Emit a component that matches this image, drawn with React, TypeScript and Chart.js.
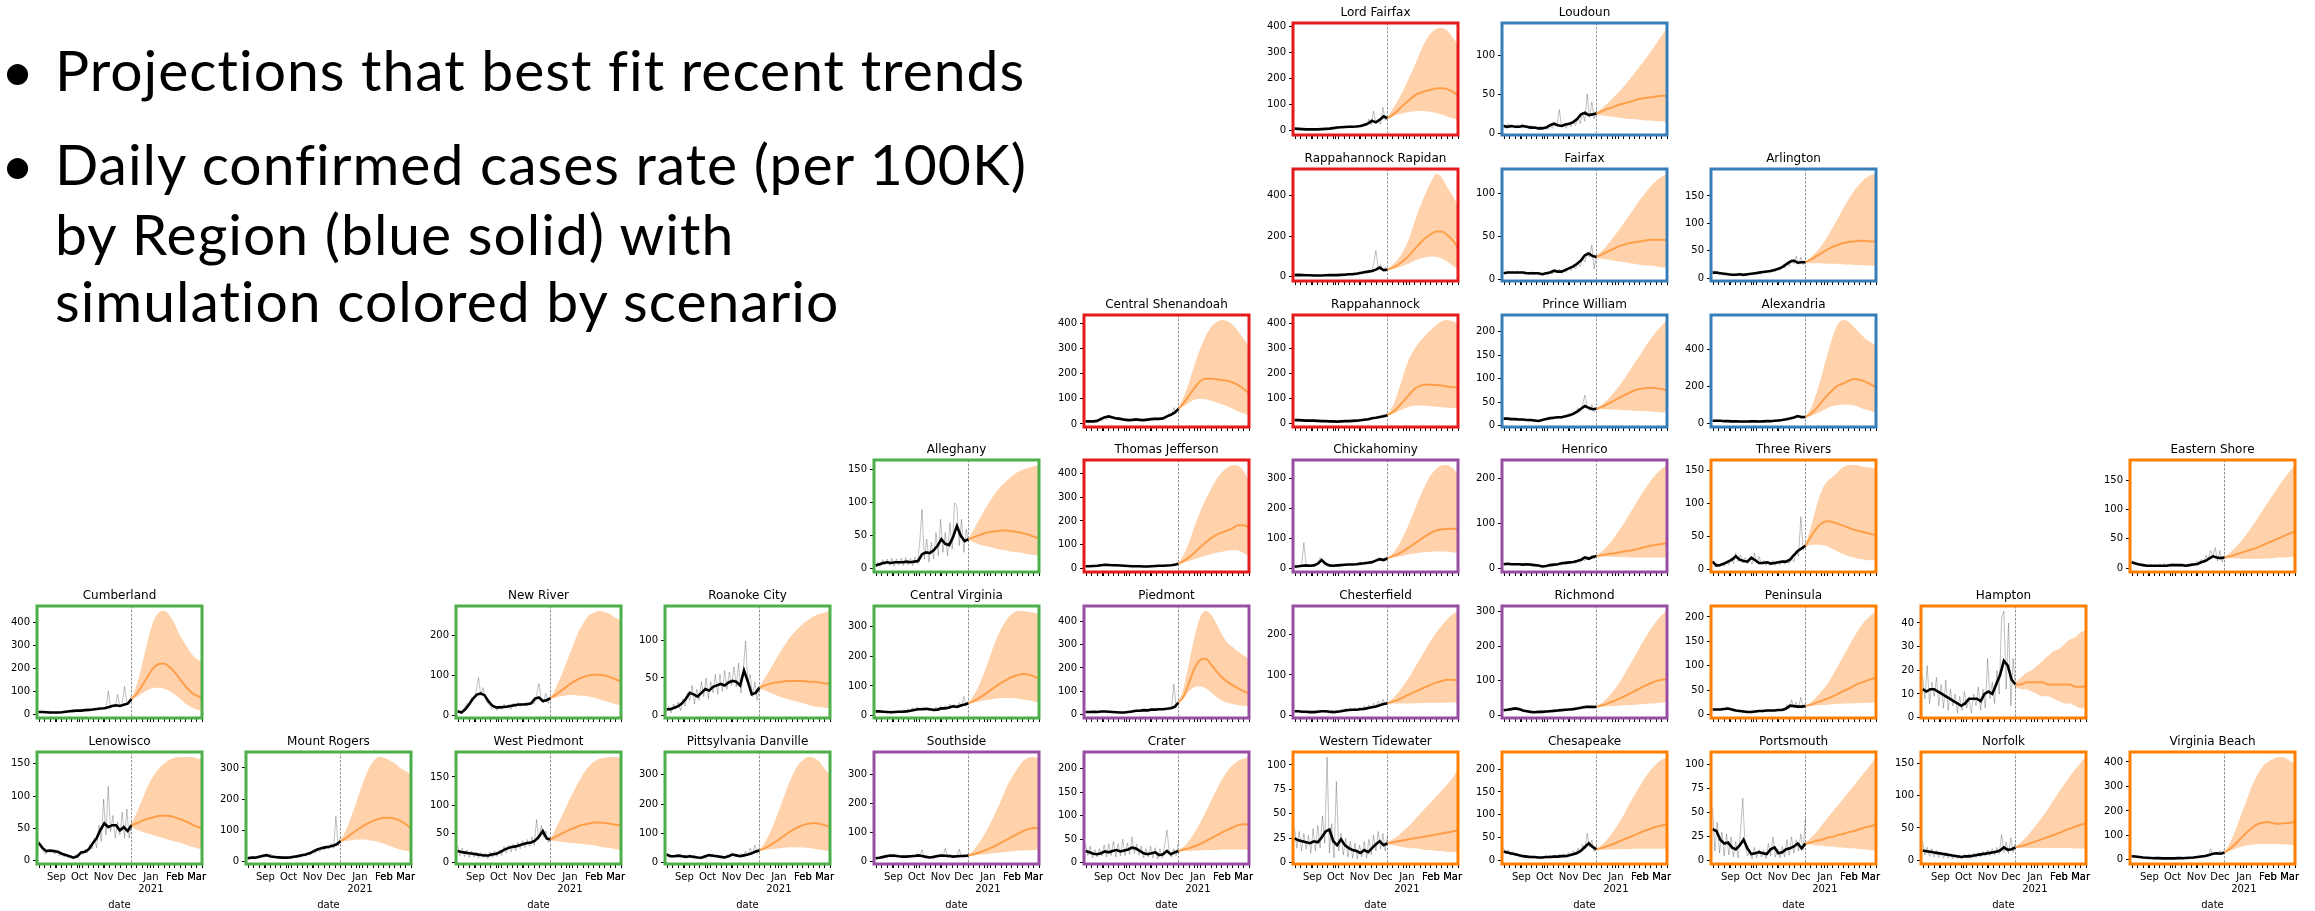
import { useEffect, useRef } from "react";
import { Chart, registerables } from "chart.js";

Chart.register(...registerables);
Chart.defaults.font.family = '"DejaVu Sans", sans-serif';
Chart.defaults.color = "#000";

// x values are days since 2020-08-01
const AXIS_START = 6; // Aug 7
const AXIS_END = 219; // Mar 8
const FORECAST_START = 128; // Dec 7

const OBS_DAYS = [8, 13, 18, 23, 28, 33, 38, 43, 48, 53, 58, 63, 68, 73, 78, 83, 88, 93, 98, 103, 108, 113, 118, 123, 128];
const RAW_DAYS = [8, 11, 14, 17, 20, 23, 26, 29, 32, 35, 38, 41, 44, 47, 50, 53, 56, 59, 62, 65, 68, 71, 74, 77, 80, 83, 86, 89, 92, 95, 98, 101, 104, 107, 110, 113, 116, 119, 122, 125, 128];
const PROJ_DAYS = [128, 135, 142, 149, 156, 163, 170, 177, 184, 191, 198, 205, 212, 219];

const MONTH_TICKS = [31, 61, 92, 122, 153, 184, 212];
const MONTH_LABELS: (string | string[])[] = ["Sep", "Oct", "Nov", "Dec", ["Jan", "2021"], "Feb", "Mar"];
const WEEK_TICKS = [9, 16, 23, 30, 37, 44, 51, 58, 65, 72, 79, 86, 93, 100, 107, 114, 121, 128, 135, 142, 149, 156, 163, 170, 177, 184, 191, 198, 205, 212, 219];

// ---- Region series: obs = 7-day average, raw = daily rate, mid/lo/hi = projection ----
const lordFairfaxObs = [8, 7, 6, 5, 5, 5, 5, 6, 7, 8, 10, 12, 13, 14, 15, 15, 16, 18, 22, 28, 38, 32, 42, 55, 48];
const lordFairfaxRaw = [10, 5, 9, 4, 8, 3, 7, 4, 6, 3, 8, 4, 8, 5, 10, 6, 11, 8, 14, 9, 16, 10, 17, 11, 19, 12, 20, 13, 22, 14, 30, 18, 45, 22, 75, 30, 45, 25, 90, 40, 60];
const lordFairfaxMid = [48, 62, 80, 100, 118, 135, 146, 153, 158, 162, 163, 160, 150, 135];
const lordFairfaxLo = [46, 55, 62, 68, 72, 75, 76, 75, 72, 68, 62, 55, 48, 42];
const lordFairfaxHi = [50, 85, 120, 160, 205, 250, 300, 345, 375, 392, 395, 385, 360, 330];

const loudounObs = [9, 8, 9, 8, 8, 9, 8, 7, 7, 6, 6, 7, 10, 12, 10, 9, 11, 12, 14, 18, 24, 26, 23, 24, 25];
const loudounRaw = [11, 6, 12, 7, 10, 6, 11, 7, 12, 8, 9, 5, 10, 6, 8, 4, 9, 5, 8, 4, 9, 6, 14, 10, 30, 8, 12, 6, 14, 8, 16, 10, 20, 12, 26, 15, 50, 20, 40, 18, 30];
const loudounMid = [25, 28, 31, 33, 36, 38, 40, 42, 44, 45, 46, 47, 48, 48];
const loudounLo = [24, 23, 22, 21, 20, 19, 18, 18, 17, 16, 16, 15, 15, 14];
const loudounHi = [26, 32, 38, 45, 52, 60, 68, 77, 86, 95, 105, 115, 125, 135];

const rappRapidanObs = [8, 9, 8, 7, 7, 6, 6, 6, 7, 8, 8, 8, 9, 10, 12, 13, 15, 18, 22, 25, 28, 35, 45, 32, 35];
const rappRapidanRaw = [12, 6, 11, 6, 10, 5, 8, 4, 9, 5, 8, 4, 9, 6, 10, 6, 11, 7, 12, 8, 13, 9, 15, 10, 18, 12, 22, 15, 26, 18, 30, 20, 35, 25, 60, 130, 40, 60, 30, 45, 38];
const rappRapidanMid = [35, 45, 60, 80, 105, 135, 165, 190, 210, 222, 222, 205, 180, 145];
const rappRapidanLo = [34, 38, 45, 55, 65, 78, 88, 96, 100, 98, 90, 75, 55, 35];
const rappRapidanHi = [36, 60, 90, 130, 190, 270, 345, 410, 465, 505, 490, 440, 400, 350];

const fairfaxObs = [7, 8, 8, 8, 8, 8, 7, 7, 7, 7, 6, 7, 8, 10, 9, 9, 11, 13, 15, 18, 22, 28, 30, 27, 26];
const fairfaxRaw = [9, 6, 10, 7, 9, 6, 10, 7, 9, 6, 8, 5, 9, 5, 8, 5, 7, 4, 8, 5, 9, 6, 11, 8, 12, 7, 11, 8, 14, 10, 16, 12, 19, 15, 24, 20, 32, 26, 40, 12, 28];
const fairfaxMid = [26, 29, 32, 35, 38, 40, 42, 43, 44, 45, 46, 46, 46, 45];
const fairfaxLo = [25, 24, 23, 22, 21, 20, 19, 18, 17, 16, 16, 15, 14, 14];
const fairfaxHi = [27, 33, 40, 48, 56, 65, 74, 83, 92, 100, 108, 114, 119, 122];

const arlingtonObs = [10, 10, 9, 8, 7, 6, 6, 7, 6, 7, 8, 9, 10, 11, 12, 13, 15, 17, 20, 25, 30, 32, 28, 29, 29];
const arlingtonRaw = [14, 8, 12, 7, 10, 6, 9, 5, 8, 4, 8, 5, 9, 6, 8, 5, 9, 6, 10, 7, 11, 8, 12, 9, 14, 10, 15, 12, 18, 14, 22, 18, 28, 22, 35, 26, 40, 25, 38, 24, 34];
const arlingtonMid = [29, 34, 40, 46, 52, 57, 61, 64, 66, 67, 68, 68, 67, 67];
const arlingtonLo = [28, 27, 27, 27, 26, 26, 26, 25, 25, 24, 24, 23, 23, 22];
const arlingtonHi = [30, 38, 48, 60, 75, 92, 110, 128, 145, 160, 172, 182, 188, 190];

const centralShenandoahObs = [10, 10, 10, 12, 20, 27, 30, 26, 22, 20, 17, 15, 16, 18, 16, 15, 17, 19, 20, 20, 22, 30, 36, 45, 60];
const centralShenandoahRaw = [12, 8, 11, 9, 12, 10, 16, 12, 22, 18, 35, 24, 30, 22, 25, 18, 22, 14, 20, 13, 18, 12, 20, 13, 22, 15, 19, 13, 22, 16, 25, 17, 26, 18, 28, 24, 45, 35, 65, 45, 70];
const centralShenandoahMid = [60, 85, 115, 145, 170, 180, 180, 178, 175, 172, 165, 155, 140, 122];
const centralShenandoahLo = [58, 70, 85, 97, 100, 98, 92, 85, 78, 70, 60, 50, 42, 35];
const centralShenandoahHi = [62, 110, 170, 240, 300, 350, 385, 405, 414, 410, 395, 370, 340, 310];

const rappahannockObs = [12, 12, 11, 10, 10, 10, 9, 8, 8, 7, 7, 6, 7, 8, 8, 9, 10, 12, 14, 16, 20, 22, 25, 28, 32];
const rappahannockRaw = [15, 10, 14, 9, 13, 9, 12, 8, 12, 8, 11, 7, 10, 6, 9, 6, 8, 5, 9, 5, 8, 5, 9, 6, 10, 7, 11, 8, 14, 10, 16, 12, 20, 16, 24, 18, 28, 22, 35, 25, 38];
const rappahannockMid = [32, 45, 65, 90, 115, 138, 150, 155, 155, 154, 152, 148, 145, 145];
const rappahannockLo = [31, 38, 48, 58, 66, 70, 71, 70, 68, 66, 64, 62, 61, 60];
const rappahannockHi = [34, 70, 130, 200, 260, 300, 330, 355, 375, 395, 410, 415, 410, 400];

const princeWilliamObs = [15, 15, 14, 14, 13, 13, 12, 12, 11, 10, 12, 14, 16, 17, 18, 18, 20, 22, 25, 30, 36, 42, 38, 35, 36];
const princeWilliamRaw = [18, 12, 17, 12, 16, 11, 15, 11, 14, 10, 13, 9, 12, 8, 11, 8, 13, 10, 16, 12, 18, 13, 19, 14, 20, 15, 22, 17, 26, 20, 30, 25, 38, 30, 45, 65, 40, 32, 45, 30, 40];
const princeWilliamMid = [36, 40, 46, 52, 58, 64, 70, 75, 78, 80, 81, 80, 78, 75];
const princeWilliamLo = [35, 35, 35, 34, 34, 33, 33, 32, 31, 31, 30, 29, 28, 28];
const princeWilliamHi = [37, 45, 55, 68, 82, 98, 115, 133, 150, 168, 185, 200, 213, 225];

const alexandriaObs = [12, 12, 12, 10, 10, 9, 9, 8, 8, 8, 9, 9, 8, 9, 10, 10, 12, 14, 16, 20, 25, 30, 38, 32, 33];
const alexandriaRaw = [15, 10, 14, 10, 13, 9, 12, 8, 11, 8, 10, 7, 10, 6, 9, 6, 10, 7, 11, 8, 10, 7, 11, 8, 12, 9, 13, 10, 16, 12, 18, 14, 22, 18, 28, 24, 35, 30, 42, 28, 36];
const alexandriaMid = [33, 50, 80, 115, 150, 180, 205, 215, 230, 240, 235, 225, 210, 195];
const alexandriaLo = [32, 38, 50, 65, 80, 92, 98, 100, 100, 95, 85, 75, 65, 55];
const alexandriaHi = [35, 80, 160, 260, 370, 470, 540, 560, 550, 520, 490, 460, 440, 425];

const alleghanyObs = [5, 7, 9, 10, 9, 10, 10, 10, 11, 10, 11, 12, 22, 25, 24, 28, 35, 45, 38, 36, 48, 65, 50, 42, 45];
const alleghanyRaw = [3, 10, 4, 14, 6, 15, 5, 16, 4, 15, 6, 16, 5, 17, 6, 16, 5, 18, 8, 40, 90, 15, 45, 10, 40, 15, 55, 20, 75, 25, 55, 20, 70, 30, 100, 95, 35, 75, 25, 60, 40];
const alleghanyMid = [45, 48, 51, 54, 56, 57, 58, 58, 57, 56, 54, 52, 49, 46];
const alleghanyLo = [44, 40, 37, 35, 33, 31, 29, 28, 26, 25, 24, 22, 21, 20];
const alleghanyHi = [46, 60, 75, 90, 103, 115, 125, 133, 140, 146, 150, 153, 155, 157];

const thomasJeffersonObs = [10, 10, 11, 12, 14, 16, 15, 14, 14, 13, 12, 11, 10, 10, 10, 9, 9, 10, 11, 12, 12, 13, 14, 16, 20];
const thomasJeffersonRaw = [12, 8, 13, 9, 14, 10, 16, 11, 18, 13, 19, 14, 17, 12, 16, 11, 15, 10, 14, 10, 13, 9, 12, 8, 12, 8, 11, 7, 12, 8, 13, 9, 14, 10, 15, 11, 17, 12, 22, 14, 26];
const thomasJeffersonMid = [20, 32, 48, 68, 90, 110, 128, 142, 152, 160, 170, 182, 182, 172];
const thomasJeffersonLo = [19, 25, 32, 40, 47, 54, 60, 66, 71, 75, 78, 76, 65, 52];
const thomasJeffersonHi = [22, 60, 115, 180, 240, 290, 335, 375, 405, 425, 435, 432, 410, 370];

const chickahominyObs = [5, 6, 8, 9, 8, 9, 15, 27, 15, 9, 8, 9, 10, 11, 12, 12, 13, 15, 16, 18, 20, 25, 30, 27, 33];
const chickahominyRaw = [7, 4, 8, 6, 85, 10, 8, 6, 9, 7, 18, 35, 22, 10, 8, 6, 10, 7, 11, 8, 12, 9, 13, 10, 14, 11, 15, 12, 18, 14, 20, 15, 22, 17, 25, 28, 35, 26, 32, 28, 36];
const chickahominyMid = [33, 40, 48, 58, 70, 82, 95, 107, 118, 126, 130, 131, 132, 130];
const chickahominyLo = [32, 35, 38, 42, 46, 49, 52, 54, 55, 56, 56, 55, 53, 50];
const chickahominyHi = [34, 50, 75, 110, 150, 195, 240, 280, 312, 333, 344, 345, 335, 315];

const henricoObs = [10, 11, 10, 10, 10, 9, 10, 9, 8, 7, 5, 6, 8, 9, 10, 12, 13, 14, 15, 17, 20, 25, 22, 26, 28];
const henricoRaw = [12, 8, 13, 9, 12, 8, 12, 8, 11, 7, 12, 8, 10, 7, 9, 6, 8, 4, 6, 4, 7, 5, 9, 7, 10, 8, 12, 10, 14, 11, 15, 12, 17, 14, 20, 18, 28, 20, 30, 22, 30];
const henricoMid = [28, 30, 32, 34, 36, 38, 40, 42, 45, 48, 51, 53, 55, 56];
const henricoLo = [27, 27, 27, 26, 26, 26, 25, 25, 25, 25, 25, 25, 25, 25];
const henricoHi = [29, 38, 50, 65, 82, 100, 120, 140, 160, 178, 195, 210, 222, 230];

const threeRiversObs = [12, 6, 7, 9, 12, 15, 20, 15, 13, 12, 18, 14, 10, 10, 11, 9, 10, 11, 12, 12, 15, 22, 28, 32, 36];
const threeRiversRaw = [15, 5, 9, 4, 10, 5, 13, 7, 18, 9, 25, 12, 22, 10, 18, 9, 15, 8, 25, 10, 20, 8, 14, 6, 13, 7, 14, 6, 12, 7, 14, 8, 15, 9, 18, 12, 28, 20, 80, 30, 40];
const threeRiversMid = [36, 50, 62, 70, 73, 72, 69, 66, 63, 60, 58, 56, 54, 52];
const threeRiversLo = [35, 37, 38, 37, 35, 31, 27, 23, 20, 18, 16, 15, 14, 14];
const threeRiversHi = [37, 65, 95, 120, 133, 140, 148, 155, 158, 158, 157, 155, 154, 152];

const easternShoreObs = [10, 8, 6, 5, 4, 4, 4, 4, 4, 4, 5, 5, 5, 5, 4, 5, 6, 7, 10, 12, 16, 20, 18, 17, 18];
const easternShoreRaw = [13, 7, 10, 5, 8, 3, 6, 2, 7, 2, 6, 3, 7, 2, 8, 3, 7, 3, 8, 3, 7, 2, 6, 3, 7, 4, 9, 5, 12, 8, 15, 10, 22, 14, 30, 20, 35, 12, 30, 10, 22];
const easternShoreMid = [18, 20, 23, 26, 29, 32, 35, 39, 43, 47, 51, 55, 59, 63];
const easternShoreLo = [17, 17, 17, 16, 16, 16, 16, 16, 17, 17, 18, 18, 19, 20];
const easternShoreHi = [19, 26, 35, 45, 57, 70, 84, 98, 112, 126, 140, 153, 165, 176];

const cumberlandObs = [9, 9, 8, 7, 7, 7, 8, 10, 12, 14, 15, 15, 17, 18, 20, 22, 24, 25, 30, 35, 38, 35, 40, 45, 65];
const cumberlandRaw = [11, 7, 10, 6, 9, 5, 8, 5, 9, 6, 10, 7, 12, 9, 14, 10, 16, 12, 18, 13, 20, 14, 22, 16, 24, 18, 26, 19, 30, 20, 100, 25, 40, 30, 85, 35, 45, 120, 50, 55, 75];
const cumberlandMid = [65, 90, 125, 165, 200, 218, 220, 205, 180, 150, 120, 95, 80, 72];
const cumberlandLo = [64, 75, 90, 105, 113, 115, 110, 100, 85, 65, 45, 30, 20, 15];
const cumberlandHi = [66, 130, 220, 320, 400, 440, 448, 430, 390, 340, 300, 265, 240, 228];

const newRiverObs = [10, 7, 15, 28, 42, 52, 55, 50, 35, 24, 20, 20, 21, 22, 24, 26, 27, 27, 28, 30, 42, 45, 36, 38, 43];
const newRiverRaw = [12, 6, 9, 20, 30, 25, 45, 40, 60, 95, 50, 70, 40, 30, 25, 15, 22, 12, 25, 15, 28, 18, 27, 15, 30, 20, 32, 22, 30, 24, 32, 26, 35, 28, 50, 80, 42, 32, 55, 30, 48];
const newRiverMid = [43, 52, 62, 72, 82, 90, 96, 100, 102, 102, 100, 96, 90, 85];
const newRiverLo = [42, 45, 48, 50, 51, 50, 49, 47, 44, 40, 36, 32, 28, 25];
const newRiverHi = [44, 70, 100, 135, 170, 205, 230, 250, 258, 262, 260, 255, 245, 238];

const roanokeCityObs = [8, 8, 10, 12, 16, 22, 30, 28, 25, 30, 35, 33, 38, 40, 42, 40, 44, 46, 45, 40, 60, 45, 28, 30, 37];
const roanokeCityRaw = [5, 12, 3, 15, 8, 18, 6, 22, 12, 30, 20, 40, 15, 35, 20, 45, 25, 50, 22, 45, 30, 55, 28, 55, 32, 60, 35, 58, 40, 65, 38, 70, 30, 60, 100, 45, 55, 25, 45, 20, 40];
const roanokeCityMid = [37, 40, 42, 44, 45, 46, 46, 46, 46, 45, 45, 44, 43, 42];
const roanokeCityLo = [36, 33, 30, 27, 24, 22, 20, 18, 16, 14, 12, 11, 10, 9];
const roanokeCityHi = [38, 50, 62, 75, 87, 98, 108, 116, 123, 128, 133, 136, 138, 140];

const centralVirginiaObs = [15, 15, 14, 13, 12, 13, 14, 14, 15, 17, 20, 22, 22, 24, 22, 20, 21, 25, 25, 28, 32, 30, 35, 38, 42];
const centralVirginiaRaw = [18, 12, 17, 11, 15, 10, 16, 11, 17, 12, 18, 13, 20, 14, 24, 16, 28, 18, 30, 20, 28, 18, 24, 16, 26, 18, 30, 20, 32, 22, 35, 25, 40, 26, 38, 28, 45, 30, 65, 32, 50];
const centralVirginiaMid = [42, 50, 60, 72, 85, 98, 110, 120, 130, 136, 140, 138, 132, 125];
const centralVirginiaLo = [41, 44, 48, 52, 55, 58, 60, 60, 60, 58, 55, 52, 48, 45];
const centralVirginiaHi = [44, 70, 105, 150, 200, 250, 290, 320, 340, 350, 350, 348, 345, 340];

const piedmontObs = [10, 10, 11, 10, 12, 12, 11, 10, 9, 8, 8, 10, 12, 15, 15, 18, 17, 20, 20, 22, 22, 24, 26, 32, 50];
const piedmontRaw = [13, 8, 14, 8, 14, 9, 15, 10, 14, 9, 13, 8, 12, 7, 10, 6, 9, 6, 12, 8, 16, 10, 20, 12, 19, 13, 22, 15, 24, 16, 26, 17, 27, 18, 28, 20, 32, 22, 130, 30, 60];
const piedmontMid = [50, 80, 140, 200, 235, 240, 215, 185, 160, 140, 125, 112, 100, 90];
const piedmontLo = [48, 70, 100, 118, 120, 112, 95, 75, 60, 50, 44, 40, 37, 35];
const piedmontHi = [52, 120, 230, 340, 420, 445, 430, 390, 345, 310, 290, 270, 255, 240];

const chesterfieldObs = [10, 10, 9, 9, 8, 8, 9, 10, 10, 9, 8, 9, 10, 12, 13, 14, 14, 15, 16, 18, 20, 22, 25, 28, 30];
const chesterfieldRaw = [13, 8, 12, 7, 11, 6, 11, 6, 12, 7, 13, 8, 12, 7, 11, 6, 12, 7, 13, 8, 15, 10, 17, 11, 18, 12, 19, 13, 20, 14, 24, 16, 26, 18, 30, 22, 35, 24, 40, 26, 36];
const chesterfieldMid = [30, 34, 39, 45, 52, 58, 64, 70, 76, 81, 85, 88, 88, 86];
const chesterfieldLo = [29, 29, 29, 29, 30, 30, 30, 31, 31, 31, 31, 32, 32, 32];
const chesterfieldHi = [31, 42, 57, 75, 95, 118, 140, 163, 185, 205, 222, 238, 250, 258];

const richmondObs = [15, 16, 18, 20, 18, 14, 12, 10, 9, 10, 10, 11, 12, 13, 14, 15, 16, 17, 18, 20, 22, 24, 25, 24, 25];
const richmondRaw = [18, 13, 20, 15, 22, 17, 21, 14, 16, 10, 13, 8, 11, 7, 12, 8, 13, 9, 14, 10, 15, 11, 16, 12, 18, 13, 19, 14, 20, 15, 22, 16, 25, 18, 28, 20, 30, 22, 30, 20, 28];
const richmondMid = [25, 29, 34, 40, 47, 54, 62, 70, 78, 86, 93, 99, 103, 104];
const richmondLo = [24, 25, 26, 27, 28, 29, 30, 31, 32, 33, 34, 35, 37, 38];
const richmondHi = [26, 36, 50, 68, 90, 115, 142, 170, 198, 225, 250, 272, 290, 302];

const peninsulaObs = [10, 10, 10, 11, 12, 10, 8, 7, 6, 5, 5, 6, 7, 7, 8, 8, 8, 9, 9, 12, 18, 17, 16, 16, 17];
const peninsulaRaw = [13, 8, 12, 9, 14, 10, 16, 9, 12, 6, 9, 5, 8, 4, 7, 3, 7, 4, 8, 5, 9, 5, 10, 6, 11, 6, 10, 7, 11, 7, 12, 8, 20, 12, 30, 15, 25, 12, 35, 14, 22];
const peninsulaMid = [17, 20, 24, 28, 32, 37, 42, 48, 53, 59, 64, 68, 72, 75];
const peninsulaLo = [16, 17, 18, 19, 20, 21, 22, 22, 23, 23, 23, 24, 24, 24];
const peninsulaHi = [18, 25, 35, 48, 62, 80, 100, 120, 140, 160, 178, 192, 203, 212];

const hamptonObs = [12, 11, 12, 12, 11, 10, 9, 8, 7, 6, 5, 6, 8, 8, 8, 7, 10, 11, 10, 14, 18, 24, 22, 16, 14];
const hamptonRaw = [18, 8, 22, 6, 15, 9, 17, 5, 14, 4, 16, 3, 12, 5, 10, 2, 9, 3, 11, 4, 8, 2, 10, 5, 13, 3, 12, 4, 25, 8, 15, 6, 20, 10, 42, 45, 12, 40, 5, 25, 12];
const hamptonMid = [14, 14, 15, 15, 15, 15, 14, 14, 14, 14, 14, 13, 13, 13];
const hamptonLo = [13, 12, 12, 11, 10, 9, 9, 8, 7, 6, 6, 5, 4, 4];
const hamptonHi = [15, 17, 19, 20, 22, 24, 26, 28, 29, 31, 33, 34, 36, 37];

const lenowiscoObs = [28, 20, 15, 16, 15, 14, 11, 9, 7, 5, 7, 13, 14, 18, 27, 35, 48, 58, 52, 55, 55, 47, 52, 46, 55];
const lenowiscoRaw = [32, 22, 15, 10, 18, 12, 16, 10, 14, 8, 12, 6, 10, 4, 8, 3, 10, 5, 15, 10, 18, 12, 25, 18, 35, 20, 55, 30, 95, 40, 115, 45, 70, 35, 60, 40, 75, 35, 80, 35, 60];
const lenowiscoMid = [55, 58, 62, 65, 67, 69, 70, 69, 67, 64, 61, 57, 53, 50];
const lenowiscoLo = [53, 48, 45, 42, 40, 37, 35, 32, 30, 28, 25, 22, 20, 18];
const lenowiscoHi = [57, 75, 95, 115, 130, 142, 150, 156, 159, 160, 160, 160, 158, 157];

const mountRogersObs = [10, 12, 12, 15, 18, 20, 16, 14, 13, 12, 12, 13, 15, 17, 20, 22, 26, 32, 38, 42, 45, 47, 50, 55, 65];
const mountRogersRaw = [12, 8, 14, 10, 15, 10, 18, 12, 22, 15, 24, 16, 20, 13, 17, 11, 15, 10, 15, 10, 16, 11, 18, 13, 22, 16, 26, 20, 32, 25, 40, 30, 46, 36, 50, 40, 58, 42, 145, 50, 80];
const mountRogersMid = [65, 75, 88, 100, 112, 122, 130, 136, 140, 140, 137, 130, 120, 105];
const mountRogersLo = [63, 66, 68, 70, 70, 69, 66, 62, 57, 50, 44, 38, 34, 30];
const mountRogersHi = [67, 100, 145, 195, 245, 290, 320, 335, 333, 325, 315, 300, 290, 278];

const westPiedmontObs = [20, 18, 17, 16, 15, 14, 13, 12, 12, 14, 15, 18, 22, 25, 27, 28, 30, 32, 34, 35, 38, 45, 55, 42, 40];
const westPiedmontRaw = [30, 12, 25, 10, 22, 8, 20, 9, 18, 7, 17, 8, 16, 6, 18, 8, 20, 10, 22, 12, 28, 16, 30, 18, 32, 20, 35, 24, 38, 26, 40, 28, 45, 30, 75, 40, 65, 45, 55, 35, 45];
const westPiedmontMid = [40, 45, 50, 55, 59, 63, 66, 68, 70, 70, 69, 68, 66, 65];
const westPiedmontLo = [39, 37, 36, 35, 34, 33, 32, 31, 30, 28, 26, 25, 23, 22];
const westPiedmontHi = [41, 60, 80, 100, 120, 138, 155, 168, 177, 182, 184, 185, 185, 184];

const pittsylvaniaObs = [28, 22, 22, 24, 22, 20, 22, 20, 18, 17, 22, 26, 24, 22, 20, 18, 22, 28, 25, 22, 25, 28, 32, 38, 42];
const pittsylvaniaRaw = [32, 20, 26, 18, 28, 20, 30, 18, 26, 17, 28, 16, 24, 15, 22, 14, 20, 13, 28, 18, 30, 20, 27, 18, 24, 16, 28, 18, 34, 22, 30, 20, 32, 22, 40, 26, 50, 30, 60, 32, 55];
const pittsylvaniaMid = [42, 50, 60, 72, 85, 98, 110, 120, 128, 133, 135, 133, 128, 120];
const pittsylvaniaLo = [41, 43, 46, 48, 50, 52, 53, 53, 52, 50, 48, 45, 42, 40];
const pittsylvaniaHi = [44, 70, 105, 150, 200, 250, 295, 330, 350, 360, 358, 345, 320, 300];

const southsideObs = [10, 12, 15, 18, 20, 19, 17, 16, 16, 17, 18, 20, 18, 15, 13, 15, 18, 20, 19, 18, 16, 17, 18, 18, 20];
const southsideRaw = [12, 8, 14, 9, 18, 12, 24, 14, 26, 15, 22, 13, 20, 12, 22, 14, 24, 15, 26, 16, 40, 14, 20, 10, 18, 9, 22, 12, 26, 14, 45, 12, 24, 13, 20, 12, 42, 14, 24, 15, 25];
const southsideMid = [20, 24, 30, 37, 45, 54, 64, 74, 84, 94, 104, 111, 115, 114];
const southsideLo = [19, 20, 22, 24, 26, 28, 30, 32, 34, 36, 37, 38, 39, 40];
const southsideHi = [21, 40, 65, 95, 130, 170, 210, 255, 290, 320, 345, 358, 360, 355];

const craterObs = [25, 22, 19, 18, 20, 24, 22, 25, 27, 24, 26, 28, 32, 30, 25, 20, 18, 20, 22, 16, 18, 25, 18, 22, 25];
const craterRaw = [40, 15, 35, 10, 28, 12, 30, 14, 38, 12, 40, 15, 45, 12, 40, 14, 50, 15, 42, 18, 55, 20, 40, 16, 35, 10, 30, 12, 35, 10, 32, 8, 30, 10, 35, 70, 25, 12, 30, 15, 45];
const craterMid = [25, 28, 31, 35, 40, 46, 52, 58, 64, 70, 75, 80, 82, 81];
const craterLo = [24, 25, 25, 26, 26, 27, 27, 27, 28, 28, 28, 28, 28, 28];
const craterHi = [26, 35, 48, 65, 85, 108, 132, 155, 177, 195, 208, 217, 222, 225];

const westernTidewaterObs = [25, 23, 22, 21, 20, 22, 21, 26, 32, 34, 22, 18, 24, 18, 15, 13, 12, 10, 13, 11, 15, 19, 22, 18, 20];
const westernTidewaterRaw = [35, 15, 32, 12, 30, 14, 28, 10, 35, 12, 38, 15, 48, 20, 108, 10, 40, 5, 83, 12, 30, 8, 25, 6, 22, 5, 20, 4, 18, 6, 22, 5, 24, 8, 28, 12, 32, 14, 30, 12, 28];
const westernTidewaterMid = [20, 21, 22, 23, 24, 25, 26, 27, 28, 29, 30, 31, 32, 33];
const westernTidewaterLo = [19, 18, 17, 16, 15, 15, 14, 13, 13, 12, 12, 11, 11, 10];
const westernTidewaterHi = [21, 24, 28, 33, 38, 44, 50, 56, 62, 68, 74, 80, 87, 95];

const chesapeakeObs = [20, 18, 16, 14, 12, 10, 9, 8, 8, 7, 7, 8, 8, 9, 9, 10, 10, 12, 14, 17, 22, 30, 38, 30, 25];
const chesapeakeRaw = [28, 14, 24, 12, 20, 10, 16, 8, 13, 6, 12, 5, 11, 5, 10, 4, 10, 5, 11, 6, 12, 6, 13, 7, 14, 8, 15, 9, 18, 10, 22, 14, 28, 18, 35, 25, 60, 30, 45, 20, 32];
const chesapeakeMid = [25, 28, 32, 36, 41, 46, 51, 56, 61, 66, 70, 74, 77, 79];
const chesapeakeLo = [24, 24, 24, 25, 25, 25, 25, 26, 26, 26, 26, 26, 26, 26];
const chesapeakeHi = [26, 35, 47, 62, 80, 100, 122, 143, 163, 182, 198, 211, 220, 226];

const portsmouthObs = [33, 31, 22, 18, 19, 14, 12, 16, 22, 13, 7, 8, 9, 8, 7, 12, 14, 8, 9, 12, 13, 15, 18, 13, 18];
const portsmouthRaw = [55, 10, 40, 8, 30, 5, 28, 6, 25, 4, 20, 3, 30, 65, 15, 5, 10, 2, 14, 3, 12, 4, 11, 2, 18, 5, 25, 4, 12, 3, 15, 4, 22, 6, 25, 8, 22, 10, 28, 12, 45];
const portsmouthMid = [18, 19, 21, 22, 24, 25, 27, 28, 30, 31, 33, 35, 36, 38];
const portsmouthLo = [17, 17, 16, 16, 15, 15, 14, 14, 13, 13, 12, 12, 11, 11];
const portsmouthHi = [19, 24, 30, 37, 44, 51, 58, 65, 72, 79, 86, 93, 100, 108];

const norfolkObs = [15, 14, 13, 12, 11, 10, 9, 8, 7, 6, 5, 6, 6, 7, 8, 9, 10, 11, 12, 13, 15, 20, 16, 17, 20];
const norfolkRaw = [30, 8, 20, 6, 18, 5, 15, 4, 13, 3, 12, 3, 10, 2, 9, 2, 8, 2, 9, 3, 10, 3, 11, 4, 12, 5, 14, 6, 16, 7, 18, 8, 20, 10, 40, 12, 28, 10, 35, 12, 25];
const norfolkMid = [20, 22, 24, 27, 30, 33, 36, 39, 42, 46, 49, 52, 55, 57];
const norfolkLo = [19, 19, 19, 19, 19, 19, 19, 19, 19, 19, 19, 18, 18, 18];
const norfolkHi = [21, 28, 36, 46, 57, 68, 80, 93, 106, 118, 130, 141, 151, 160];

const virginiaBeachObs = [15, 14, 12, 10, 9, 8, 7, 7, 6, 6, 6, 6, 7, 7, 8, 9, 10, 12, 14, 16, 20, 25, 27, 25, 30];
const virginiaBeachRaw = [18, 12, 16, 10, 14, 8, 12, 6, 10, 5, 9, 4, 8, 4, 8, 4, 8, 4, 9, 5, 9, 5, 10, 6, 11, 7, 12, 8, 15, 10, 18, 12, 22, 15, 45, 20, 30, 22, 38, 24, 35];
const virginiaBeachMid = [30, 45, 65, 88, 110, 130, 145, 152, 155, 150, 148, 150, 152, 155];
const virginiaBeachLo = [29, 38, 46, 53, 58, 62, 64, 65, 65, 65, 64, 63, 62, 60];
const virginiaBeachHi = [32, 70, 120, 180, 240, 300, 345, 380, 400, 412, 420, 418, 405, 395];

// ---- Styling ----
const SCENARIO_COLORS: Record<string, string> = {
  red: "#e41a1c",
  blue: "#377eb8",
  green: "#4daf4a",
  purple: "#984ea3",
  orange: "#ff7f00",
};
const BAND_COLOR = "rgba(255,127,14,0.35)";
const MID_COLOR = "rgba(255,127,14,0.62)";
const RAW_COLOR = "rgba(0,0,0,0.25)";

const COL_X0 = 37;
const COL_STEP = 209.3;
const ROW_Y0 = 23;
const ROW_STEP = 145.8;
const BOX_W = 165;
const BOX_H = 112;
const PAD_LEFT = 40;
const PAD_TOP = 22;
const PAD_RIGHT = 8;
const LAST_ROW = 5;

type Region = {
  name: string;
  row: number;
  col: number;
  scenario: string;
  step: number;
  obs: number[];
  raw: number[];
  mid: number[];
  lo: number[];
  hi: number[];
};

const REGIONS: Region[] = [
  { name: "Lord Fairfax", row: 0, col: 6, scenario: "red", step: 100, obs: lordFairfaxObs, raw: lordFairfaxRaw, mid: lordFairfaxMid, lo: lordFairfaxLo, hi: lordFairfaxHi },
  { name: "Loudoun", row: 0, col: 7, scenario: "blue", step: 50, obs: loudounObs, raw: loudounRaw, mid: loudounMid, lo: loudounLo, hi: loudounHi },
  { name: "Rappahannock Rapidan", row: 1, col: 6, scenario: "red", step: 200, obs: rappRapidanObs, raw: rappRapidanRaw, mid: rappRapidanMid, lo: rappRapidanLo, hi: rappRapidanHi },
  { name: "Fairfax", row: 1, col: 7, scenario: "blue", step: 50, obs: fairfaxObs, raw: fairfaxRaw, mid: fairfaxMid, lo: fairfaxLo, hi: fairfaxHi },
  { name: "Arlington", row: 1, col: 8, scenario: "blue", step: 50, obs: arlingtonObs, raw: arlingtonRaw, mid: arlingtonMid, lo: arlingtonLo, hi: arlingtonHi },
  { name: "Central Shenandoah", row: 2, col: 5, scenario: "red", step: 100, obs: centralShenandoahObs, raw: centralShenandoahRaw, mid: centralShenandoahMid, lo: centralShenandoahLo, hi: centralShenandoahHi },
  { name: "Rappahannock", row: 2, col: 6, scenario: "red", step: 100, obs: rappahannockObs, raw: rappahannockRaw, mid: rappahannockMid, lo: rappahannockLo, hi: rappahannockHi },
  { name: "Prince William", row: 2, col: 7, scenario: "blue", step: 50, obs: princeWilliamObs, raw: princeWilliamRaw, mid: princeWilliamMid, lo: princeWilliamLo, hi: princeWilliamHi },
  { name: "Alexandria", row: 2, col: 8, scenario: "blue", step: 200, obs: alexandriaObs, raw: alexandriaRaw, mid: alexandriaMid, lo: alexandriaLo, hi: alexandriaHi },
  { name: "Alleghany", row: 3, col: 4, scenario: "green", step: 50, obs: alleghanyObs, raw: alleghanyRaw, mid: alleghanyMid, lo: alleghanyLo, hi: alleghanyHi },
  { name: "Thomas Jefferson", row: 3, col: 5, scenario: "red", step: 100, obs: thomasJeffersonObs, raw: thomasJeffersonRaw, mid: thomasJeffersonMid, lo: thomasJeffersonLo, hi: thomasJeffersonHi },
  { name: "Chickahominy", row: 3, col: 6, scenario: "purple", step: 100, obs: chickahominyObs, raw: chickahominyRaw, mid: chickahominyMid, lo: chickahominyLo, hi: chickahominyHi },
  { name: "Henrico", row: 3, col: 7, scenario: "purple", step: 100, obs: henricoObs, raw: henricoRaw, mid: henricoMid, lo: henricoLo, hi: henricoHi },
  { name: "Three Rivers", row: 3, col: 8, scenario: "orange", step: 50, obs: threeRiversObs, raw: threeRiversRaw, mid: threeRiversMid, lo: threeRiversLo, hi: threeRiversHi },
  { name: "Eastern Shore", row: 3, col: 10, scenario: "orange", step: 50, obs: easternShoreObs, raw: easternShoreRaw, mid: easternShoreMid, lo: easternShoreLo, hi: easternShoreHi },
  { name: "Cumberland", row: 4, col: 0, scenario: "green", step: 100, obs: cumberlandObs, raw: cumberlandRaw, mid: cumberlandMid, lo: cumberlandLo, hi: cumberlandHi },
  { name: "New River", row: 4, col: 2, scenario: "green", step: 100, obs: newRiverObs, raw: newRiverRaw, mid: newRiverMid, lo: newRiverLo, hi: newRiverHi },
  { name: "Roanoke City", row: 4, col: 3, scenario: "green", step: 50, obs: roanokeCityObs, raw: roanokeCityRaw, mid: roanokeCityMid, lo: roanokeCityLo, hi: roanokeCityHi },
  { name: "Central Virginia", row: 4, col: 4, scenario: "green", step: 100, obs: centralVirginiaObs, raw: centralVirginiaRaw, mid: centralVirginiaMid, lo: centralVirginiaLo, hi: centralVirginiaHi },
  { name: "Piedmont", row: 4, col: 5, scenario: "purple", step: 100, obs: piedmontObs, raw: piedmontRaw, mid: piedmontMid, lo: piedmontLo, hi: piedmontHi },
  { name: "Chesterfield", row: 4, col: 6, scenario: "purple", step: 100, obs: chesterfieldObs, raw: chesterfieldRaw, mid: chesterfieldMid, lo: chesterfieldLo, hi: chesterfieldHi },
  { name: "Richmond", row: 4, col: 7, scenario: "purple", step: 100, obs: richmondObs, raw: richmondRaw, mid: richmondMid, lo: richmondLo, hi: richmondHi },
  { name: "Peninsula", row: 4, col: 8, scenario: "orange", step: 50, obs: peninsulaObs, raw: peninsulaRaw, mid: peninsulaMid, lo: peninsulaLo, hi: peninsulaHi },
  { name: "Hampton", row: 4, col: 9, scenario: "orange", step: 10, obs: hamptonObs, raw: hamptonRaw, mid: hamptonMid, lo: hamptonLo, hi: hamptonHi },
  { name: "Lenowisco", row: 5, col: 0, scenario: "green", step: 50, obs: lenowiscoObs, raw: lenowiscoRaw, mid: lenowiscoMid, lo: lenowiscoLo, hi: lenowiscoHi },
  { name: "Mount Rogers", row: 5, col: 1, scenario: "green", step: 100, obs: mountRogersObs, raw: mountRogersRaw, mid: mountRogersMid, lo: mountRogersLo, hi: mountRogersHi },
  { name: "West Piedmont", row: 5, col: 2, scenario: "green", step: 50, obs: westPiedmontObs, raw: westPiedmontRaw, mid: westPiedmontMid, lo: westPiedmontLo, hi: westPiedmontHi },
  { name: "Pittsylvania Danville", row: 5, col: 3, scenario: "green", step: 100, obs: pittsylvaniaObs, raw: pittsylvaniaRaw, mid: pittsylvaniaMid, lo: pittsylvaniaLo, hi: pittsylvaniaHi },
  { name: "Southside", row: 5, col: 4, scenario: "purple", step: 100, obs: southsideObs, raw: southsideRaw, mid: southsideMid, lo: southsideLo, hi: southsideHi },
  { name: "Crater", row: 5, col: 5, scenario: "purple", step: 50, obs: craterObs, raw: craterRaw, mid: craterMid, lo: craterLo, hi: craterHi },
  { name: "Western Tidewater", row: 5, col: 6, scenario: "orange", step: 25, obs: westernTidewaterObs, raw: westernTidewaterRaw, mid: westernTidewaterMid, lo: westernTidewaterLo, hi: westernTidewaterHi },
  { name: "Chesapeake", row: 5, col: 7, scenario: "orange", step: 50, obs: chesapeakeObs, raw: chesapeakeRaw, mid: chesapeakeMid, lo: chesapeakeLo, hi: chesapeakeHi },
  { name: "Portsmouth", row: 5, col: 8, scenario: "orange", step: 25, obs: portsmouthObs, raw: portsmouthRaw, mid: portsmouthMid, lo: portsmouthLo, hi: portsmouthHi },
  { name: "Norfolk", row: 5, col: 9, scenario: "orange", step: 50, obs: norfolkObs, raw: norfolkRaw, mid: norfolkMid, lo: norfolkLo, hi: norfolkHi },
  { name: "Virginia Beach", row: 5, col: 10, scenario: "orange", step: 100, obs: virginiaBeachObs, raw: virginiaBeachRaw, mid: virginiaBeachMid, lo: virginiaBeachLo, hi: virginiaBeachHi },
];

const BULLETS = [
  { lines: ["Projections that best fit recent trends"], baselines: [91] },
  { lines: ["Daily confirmed cases rate (per 100K)", "by Region (blue solid) with", "simulation colored by scenario"], baselines: [185, 255, 322] },
];

const toPoints = (xs: number[], ys: number[]) => xs.map((x, i) => ({ x, y: ys[i] }));

// Frame, title and forecast-start marker for each small panel
const panelDecor = {
  id: "panelDecor",
  beforeDatasetsDraw(chart: any) {
    const { ctx, chartArea: a, scales } = chart;
    const x = scales.x.getPixelForValue(FORECAST_START);
    ctx.save();
    ctx.strokeStyle = "#777";
    ctx.lineWidth = 0.8;
    ctx.setLineDash([2.5, 1.5]);
    ctx.beginPath();
    ctx.moveTo(x, a.top);
    ctx.lineTo(x, a.bottom);
    ctx.stroke();
    ctx.restore();
  },
  afterDatasetsDraw(chart: any, _args: any, opts: any) {
    const { ctx, chartArea: a } = chart;
    ctx.save();
    ctx.strokeStyle = opts.color;
    ctx.lineWidth = 3;
    ctx.strokeRect(a.left, a.top, a.right - a.left, a.bottom - a.top);
    ctx.fillStyle = "#000";
    ctx.font = '12px "DejaVu Sans", sans-serif';
    ctx.textAlign = "center";
    ctx.textBaseline = "middle";
    ctx.fillText(opts.title, (a.left + a.right) / 2, a.top - 10);
    ctx.restore();
  },
};

function RegionPanel({ region }: { region: Region }) {
  const ref = useRef<HTMLCanvasElement>(null);
  const isBottom = region.row === LAST_ROW;
  const boxLeft = Math.round(COL_X0 + COL_STEP * region.col);
  const boxTop = Math.round(ROW_Y0 + ROW_STEP * region.row);
  const xAxisH = isBottom ? 47 : 10;
  const width = PAD_LEFT + BOX_W + PAD_RIGHT;
  const height = PAD_TOP + BOX_H + xAxisH;

  useEffect(() => {
    if (!ref.current) return;
    const all = [...region.obs, ...region.raw, ...region.lo, ...region.hi, ...region.mid];
    const dMax = Math.max(...all);
    const dMin = Math.min(...all);
    const margin = 0.05 * (dMax - dMin);
    const yMin = dMin - margin;
    const yMax = dMax + margin;
    const yTicks: number[] = [];
    for (let v = 0; v <= yMax; v += region.step) if (v >= yMin) yTicks.push(v);
    const xTicks = [...WEEK_TICKS, ...MONTH_TICKS].sort((a, b) => a - b);

    const chart = new Chart(ref.current, {
      type: "line",
      data: {
        datasets: [
          { data: toPoints(PROJ_DAYS, region.lo), borderColor: "transparent", borderWidth: 0, pointRadius: 0, fill: false, tension: 0.4, cubicInterpolationMode: "monotone" },
          { data: toPoints(PROJ_DAYS, region.hi), borderColor: "transparent", borderWidth: 0, pointRadius: 0, fill: "-1", backgroundColor: BAND_COLOR, tension: 0.4, cubicInterpolationMode: "monotone" },
          { data: toPoints(PROJ_DAYS, region.mid), borderColor: MID_COLOR, borderWidth: 2, pointRadius: 0, fill: false, tension: 0.4, cubicInterpolationMode: "monotone" },
          { data: toPoints(RAW_DAYS, region.raw), borderColor: RAW_COLOR, borderWidth: 1, pointRadius: 0, fill: false, tension: 0 },
          { data: toPoints(OBS_DAYS, region.obs), borderColor: "#000", borderWidth: 2.6, pointRadius: 0, fill: false, tension: 0 },
        ] as any,
      },
      options: {
        animation: false,
        responsive: false,
        devicePixelRatio: 1,
        events: [],
        layout: { padding: { left: 0, top: PAD_TOP, right: PAD_RIGHT, bottom: 0 }, autoPadding: false } as any,
        plugins: {
          legend: { display: false },
          tooltip: { enabled: false },
          panelDecor: { color: SCENARIO_COLORS[region.scenario], title: region.name },
        } as any,
        scales: {
          x: {
            type: "linear",
            min: AXIS_START,
            max: AXIS_END,
            afterFit: (s: any) => {
              s.height = xAxisH;
            },
            afterBuildTicks: (s: any) => {
              s.ticks = xTicks.map((v) => ({ value: v }));
            },
            grid: { drawOnChartArea: false, drawTicks: true, tickLength: 4, tickColor: "#000", tickWidth: 1 },
            border: { display: false },
            ticks: {
              autoSkip: false,
              maxRotation: 0,
              minRotation: 0,
              padding: 3,
              font: { size: 10 },
              callback: (v: any) => {
                if (!isBottom) return "";
                const i = MONTH_TICKS.indexOf(Number(v));
                return i >= 0 ? MONTH_LABELS[i] : "";
              },
            },
            title: { display: isBottom, text: "date", font: { size: 10 }, padding: { top: 0, bottom: 0 } },
          },
          y: {
            type: "linear",
            min: yMin,
            max: yMax,
            afterFit: (s: any) => {
              s.width = PAD_LEFT;
            },
            afterBuildTicks: (s: any) => {
              s.ticks = yTicks.map((v) => ({ value: v }));
            },
            grid: { drawOnChartArea: false, drawTicks: true, tickLength: 4, tickColor: "#000", tickWidth: 1 },
            border: { display: false },
            ticks: { padding: 3, font: { size: 10 }, callback: (v: any) => String(v) },
          },
        },
      } as any,
      plugins: [panelDecor],
    });
    return () => chart.destroy();
  }, []);

  return (
    <canvas
      ref={ref}
      width={width}
      height={height}
      style={{ position: "absolute", left: boxLeft - PAD_LEFT, top: boxTop - PAD_TOP, width, height }}
    />
  );
}

export default function App() {
  return (
    <div style={{ position: "fixed", left: 0, top: 0, width: 2315, height: 911, overflow: "hidden", background: "#fff" }}>
      <svg width={1150} height={340} style={{ position: "absolute", left: 0, top: 0 }}>
        <g fontFamily="Lato, 'Open Sans', sans-serif" fontSize={57} fill="#000" style={{ letterSpacing: "1px" }}>
          {BULLETS.map((b, bi) => (
            <g key={bi}>
              <text x={18} y={b.baselines[0]} textAnchor="middle">•</text>
              {b.lines.map((line, li) => (
                <text key={li} x={55} y={b.baselines[li]}>
                  {line}
                </text>
              ))}
            </g>
          ))}
        </g>
      </svg>
      {REGIONS.map((r) => (
        <RegionPanel key={r.name} region={r} />
      ))}
    </div>
  );
}
